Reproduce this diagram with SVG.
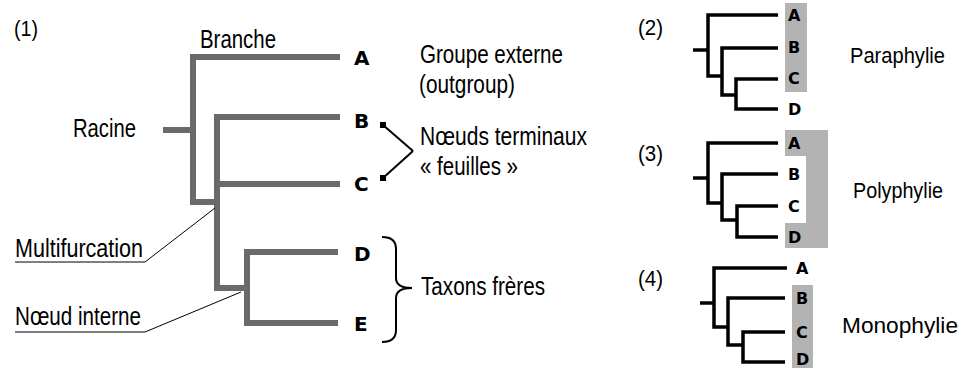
<svg xmlns="http://www.w3.org/2000/svg" width="963" height="368" viewBox="0 0 963 368">
<style>
.t{font-family:"Liberation Sans Narrow","Liberation Sans",Arial,sans-serif;font-size:25px;fill:#000}
.p{font-family:"Liberation Sans Narrow","Liberation Sans",Arial,sans-serif;font-size:22px;fill:#000}
.n{font-family:"Liberation Sans Narrow","Liberation Sans",Arial,sans-serif;font-size:22px;fill:#000}
.L{font-family:"DejaVu Sans",Verdana,sans-serif;font-weight:bold;font-size:20px;fill:#000}
.s{font-family:"DejaVu Sans",Verdana,sans-serif;font-weight:bold;font-size:16px;fill:#000}
.g{fill:none;stroke:#6a6a6a;stroke-width:6;stroke-linejoin:miter;stroke-linecap:butt}
.k{fill:none;stroke:#000;stroke-width:3.5;stroke-linejoin:miter;stroke-linecap:butt}
.thin{fill:none;stroke:#000;stroke-width:1}
.ar{fill:none;stroke:#000;stroke-width:2}
.box{fill:#b3b3b3}
</style>
<defs>
<marker id="sq" viewBox="0 0 6 6" refX="3" refY="3" markerWidth="6" markerHeight="6" markerUnits="userSpaceOnUse" orient="0">
<rect width="6" height="6" fill="#000"/>
</marker>
</defs>
<rect width="963" height="368" fill="#fff"/>
<g id="shading">
<rect class="box" x="785" y="3" width="22" height="89"/>
<path class="box" d="M785,130 H828 V248 H785 V223 H806 V156 H785 Z"/>
<rect class="box" x="792" y="285" width="21" height="90"/>
</g>
<g id="connectors">
<path class="g" d="M163,130 H193"/>
<path class="g" d="M340,57 H193 V202 H217"/>
<path class="g" d="M340,117 H217 V288 H247"/>
<path class="g" d="M340,184 H217"/>
<path class="g" d="M338,252 H247 V323 H338"/>
<path class="thin" d="M15,262 H145 L215,208"/>
<path class="thin" d="M15,332 H145 L241,292"/>
<path class="ar" d="M413,151 L383,125" marker-end="url(#sq)"/>
<path class="ar" d="M413,151 L383,178" marker-end="url(#sq)"/>
<path class="ar" d="M382,237 Q396,237 396,249 V278 Q396,288 412,288 Q396,288 396,298 V330 Q396,342 382,342"/>
<path class="k" d="M693,50 H708"/>
<path class="k" d="M778,15 H708 V76 H722"/>
<path class="k" d="M778,48 H722 V95 H736"/>
<path class="k" d="M778,79 H736 V109 H778"/>
<path class="k" d="M693,178 H708"/>
<path class="k" d="M778,143 H708 V203 H722"/>
<path class="k" d="M778,174 H722 V220 H737"/>
<path class="k" d="M778,206 H737 V237 H778"/>
<path class="k" d="M700,303 H714"/>
<path class="k" d="M787,268 H714 V327 H728"/>
<path class="k" d="M785,298 H728 V345 H743"/>
<path class="k" d="M785,332 H743 V362 H785"/>
</g>
<g id="panel1-title"><text class="n" x="14" y="36" textLength="24" lengthAdjust="spacingAndGlyphs">(1)</text></g>
<g id="branche"><text class="t" x="200" y="48" textLength="76" lengthAdjust="spacingAndGlyphs">Branche</text></g>
<g id="racine"><text class="t" x="73" y="137" textLength="63" lengthAdjust="spacingAndGlyphs">Racine</text></g>
<g id="leafA"><text class="L" x="354" y="65">A</text></g>
<g id="leafB"><text class="L" x="354" y="128">B</text></g>
<g id="leafC"><text class="L" x="354" y="191">C</text></g>
<g id="leafD"><text class="L" x="354" y="261">D</text></g>
<g id="leafE"><text class="L" x="354" y="331">E</text></g>
<g id="outgroup">
<text class="t" x="420" y="63" textLength="143" lengthAdjust="spacingAndGlyphs">Groupe externe</text>
<text class="t" x="419" y="93" textLength="96" lengthAdjust="spacingAndGlyphs">(outgroup)</text>
</g>
<g id="terminaux">
<text class="t" x="420" y="145" textLength="167" lengthAdjust="spacingAndGlyphs">Nœuds terminaux</text>
<text class="t" x="420" y="175" textLength="98" lengthAdjust="spacingAndGlyphs">« feuilles »</text>
</g>
<g id="freres"><text class="t" x="421" y="295" textLength="124" lengthAdjust="spacingAndGlyphs">Taxons frères</text></g>
<g id="multifurcation"><text class="t" x="15" y="257" textLength="128" lengthAdjust="spacingAndGlyphs">Multifurcation</text></g>
<g id="noeud-interne"><text class="t" x="15" y="325" textLength="126" lengthAdjust="spacingAndGlyphs">Nœud interne</text></g>
<g id="panel2">
<text class="n" x="638" y="35" textLength="25" lengthAdjust="spacingAndGlyphs">(2)</text>
<text class="s" x="788" y="21">A</text>
<text class="s" x="788" y="53">B</text>
<text class="s" x="788" y="84">C</text>
<text class="s" x="788" y="115">D</text>
<text class="p" x="850" y="63" textLength="95" lengthAdjust="spacingAndGlyphs">Paraphylie</text>
</g>
<g id="panel3">
<text class="n" x="638" y="161" textLength="25" lengthAdjust="spacingAndGlyphs">(3)</text>
<text class="s" x="788" y="149">A</text>
<text class="s" x="788" y="180">B</text>
<text class="s" x="788" y="212">C</text>
<text class="s" x="788" y="243">D</text>
<text class="p" x="853" y="198" textLength="90" lengthAdjust="spacingAndGlyphs">Polyphylie</text>
</g>
<g id="panel4">
<text class="n" x="638" y="286" textLength="25" lengthAdjust="spacingAndGlyphs">(4)</text>
<text class="s" x="796" y="274">A</text>
<text class="s" x="796" y="304">B</text>
<text class="s" x="796" y="338">C</text>
<text class="s" x="796" y="365">D</text>
<text class="p" x="842" y="333" textLength="116" lengthAdjust="spacingAndGlyphs">Monophylie</text>
</g>
</svg>
